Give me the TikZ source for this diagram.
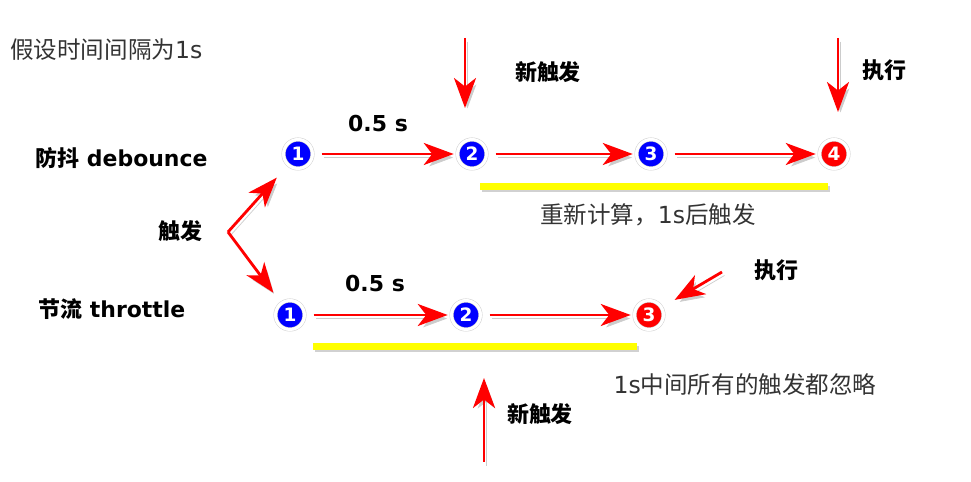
\documentclass[tikz,border=0pt]{standalone}
\usepackage{fontspec}
\setmainfont{DejaVu Sans}
\newfontfamily\cjk{Noto Sans CJK SC}
\usepackage{tikz}
\usepackage{xcolor}
\usetikzlibrary{arrows.meta, positioning, calc}
\definecolor{cRed}{RGB}{255,0,0}
\definecolor{cBlue}{RGB}{0,0,255}
\definecolor{cYellow}{RGB}{255,255,0}
\definecolor{cText}{RGB}{51,51,51}
\tikzset{
	tick/.style={circle, minimum size=0.58cm, inner sep=0pt, draw=black!18, line width=0.3pt, double=white, double distance=1.7pt, text=white, font=\fontsize{10.5}{10.5}\selectfont\bfseries},
	blueTick/.style={tick, fill=cBlue},
	redTick/.style={tick, fill=cRed},
	flowarrow/.style={-{Stealth[length=0.6cm, width=0.44cm, inset=0.17cm]}, draw=cRed, line width=1.6pt, line join=round,
		preaction={draw=black!20, transform canvas={shift={(1.4pt,-2pt)}}}},
	stepArrow/.style={flowarrow, shorten <=5pt, shorten >=2pt},
	% text styles
	boldLabel/.style={font=\fontsize{12.5}{15}\selectfont\bfseries, text=black, inner sep=0pt},
	plainLabel/.style={font=\fontsize{13.4}{15}\selectfont, text=cText, inner sep=0pt},
	hlbar/.style={fill=cYellow},
	hlshadow/.style={fill=black!18},
}

\begin{document}
\begin{tikzpicture}[x=0.02cm, y=-0.02cm]
	\useasboundingbox (0,0) rectangle (971,482);

	% headline
	\node[plainLabel, anchor=west] (note) at (10,50) {{\cjk 假设时间间隔为}1s};

	% debounce row
	\node[boldLabel, anchor=west] (debLab) at (35,158) {{\cjk 防抖} debounce};
	\foreach \lab/\x in {1/298, 2/472, 3/651} {
		\node[blueTick] (d\lab) at (\x,154) {\lab};
	}
	\node[redTick] (d4) at (834,154) {4};
	\draw[stepArrow] (d1) -- (d2);
	\draw[stepArrow] (d2) -- (d3);
	\draw[stepArrow] (d3) -- (d4);
	\node[boldLabel] (debHalf) at (378,124) {0.5 s};

	\coordinate (debNewTop) at (465,38);
	\coordinate (debNewTip) at (465,108);
	\draw[flowarrow] (debNewTop) -- (debNewTip);
	\node[boldLabel] (debNew) at (548,72) {\cjk 新触发};

	\coordinate (debRunTop) at (838,38);
	\coordinate (debRunTip) at (838,112);
	\draw[flowarrow] (debRunTop) -- (debRunTip);
	\node[boldLabel] (debRun) at (884,70) {\cjk 执行};

	\fill[hlshadow] (482,186) rectangle (830,192);
	\fill[hlbar] (480,183) rectangle (828,190);
	\node[plainLabel] (debNote) at (648,215) {{\cjk 重新计算，}1s{\cjk 后触发}};

	% trigger fork
	\node[boldLabel] (fire) at (180,231) {\cjk 触发};
	\coordinate (fork) at (228,232);

	% throttle row
	\node[boldLabel, anchor=west] (thrLab) at (38,309) {{\cjk 节流} throttle};
	\foreach \lab/\x in {1/290, 2/466} {
		\node[blueTick] (t\lab) at (\x,315) {\lab};
	}
	\node[redTick] (t3) at (649,315) {3};
	\draw[stepArrow] (t1) -- (t2);
	\draw[stepArrow] (t2) -- (t3);
	\node[boldLabel] (thrHalf) at (375,284) {0.5 s};

	\draw[flowarrow, shorten >=0.34cm] (fork) -- (d1);
	\draw[flowarrow, shorten >=0.26cm] (fork) -- (t1);

	\coordinate (thrRunTop) at (722,272);
	\draw[flowarrow, shorten >=0.3cm] (thrRunTop) -- (t3);
	\node[boldLabel] (thrRun) at (776,270) {\cjk 执行};

	\fill[hlshadow] (315,346) rectangle (639,352);
	\fill[hlbar] (313,343) rectangle (637,350);
	\node[plainLabel] (thrNote) at (745,385) {1s{\cjk 中间所有的触发都忽略}};

	\coordinate (thrNewBot) at (484,462);
	\coordinate (thrNewTip) at (484,378);
	\draw[flowarrow] (thrNewBot) -- (thrNewTip);
	\node[boldLabel] (thrNew) at (540,414) {\cjk 新触发};
\end{tikzpicture}
\end{document}
